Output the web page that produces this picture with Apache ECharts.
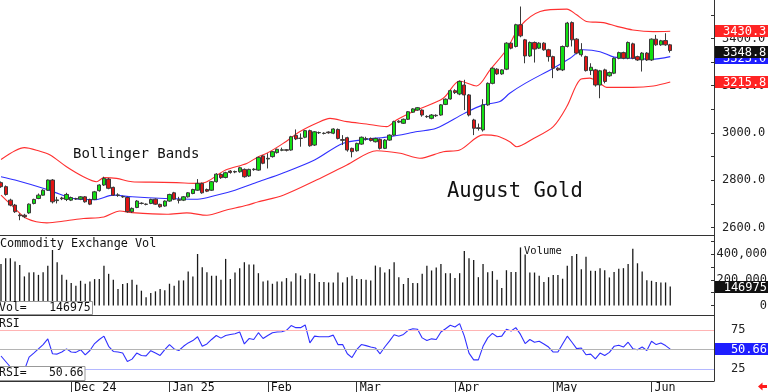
<!DOCTYPE html>
<html><head><meta charset="utf-8">
<script src="https://cdn.jsdelivr.net/npm/echarts@6/dist/echarts.min.js"></script>
<style>html,body{margin:0;padding:0;background:#fff;overflow:hidden}#c{width:768px;height:392px}</style>
</head><body><div id="c"></div>
<script>
// ---- data (bar index 0 = 2024-11-08, last = 2025-06-06) ----
const opens = [2790,2773,2716,2695,2653,2652,2662,2702,2723,2737,2758,2801,2714,2725,2719,2716,2722,2720,2730,2719,
2719,2756,2780,2805,2770,2736,2731,2727,2667,2685,2703,2699,2702,2720,2698,2691,2712,2747,2718,2716,
2730,2744,2758,2787,2761,2758,2794,2825,2812,2839,2835,2836,2846,2818,2845,2843,2903,2890,2900,2917,
2927,2929,2928,2990,2978,2982,3010,2949,3001,2998,3004,2999,3015,2972,2980,2935,2925,2953,2974,2977,
2963,2973,2935,2970,2991,3050,3041,3058,3088,3097,3097,3070,3062,3075,3076,3121,3144,3179,3165,3203,
3161,3055,3022,3013,3119,3210,3270,3250,3270,3380,3366,3458,3394,3326,3383,3359,3380,3352,3323,3274,
3267,3366,3467,3397,3331,3323,3264,3267,3203,3267,3242,3253,3316,3340,3316,3377,3323,3309,3338,3309,
3397,3373,3391,3373];
const closes = [2773,2740,2695,2667,2650,2646,2699,2719,2737,2758,2801,2709,2717,2722,2740,2727,2721,2730,2709,2699,
2751,2780,2808,2766,2737,2738,2730,2667,2681,2712,2702,2698,2719,2699,2688,2712,2740,2720,2715,2730,
2747,2761,2787,2747,2754,2794,2826,2811,2832,2833,2837,2853,2815,2846,2847,2897,2872,2893,2921,2931,
2929,2927,2984,2975,2977,3010,2946,3005,3002,2999,3001,3017,2977,2969,2928,2921,2956,2982,2976,2968,
2977,2935,2970,2991,3048,3046,3058,3090,3102,3107,3076,3069,3076,3073,3119,3143,3179,3171,3218,3161,
3076,3020,3019,3119,3210,3274,3250,3267,3380,3359,3458,3411,3326,3383,3355,3380,3352,3323,3274,3267,
3366,3465,3394,3338,3352,3264,3278,3203,3263,3218,3256,3316,3340,3316,3383,3316,3309,3338,3309,3397,
3373,3390,3373,3348.8];
const lows = [2768,2735,2690,2662,2631,2640,2658,2698,2720,2735,2755,2702,2702,2716,2712,2712,2717,2716,2705,2695,
2716,2752,2776,2762,2734,2730,2726,2663,2662,2682,2698,2694,2699,2696,2684,2688,2709,2716,2702,2712,
2727,2741,2755,2743,2750,2755,2790,2806,2808,2828,2830,2832,2811,2814,2840,2840,2868,2850,2896,2913,
2923,2922,2925,2970,2942,2978,2942,2945,2996,2994,2997,2995,2973,2949,2921,2897,2921,2950,2968,2964,
2960,2930,2932,2967,2988,3042,3038,3055,3085,3094,3069,3064,3058,3068,3073,3118,3141,3165,3160,3097,
3070,2991,3010,3006,3115,3206,3246,3246,3266,3354,3362,3405,3295,3322,3298,3355,3348,3302,3232,3262,
3262,3362,3366,3333,3323,3260,3245,3196,3147,3210,3238,3249,3312,3312,3312,3312,3305,3260,3305,3305,
3369,3369,3369,3340];
const highs = [2795,2778,2722,2700,2660,2658,2702,2722,2744,2762,2803,2805,2730,2730,2747,2731,2726,2733,2733,2722,
2755,2783,2815,2810,2773,2745,2735,2731,2685,2716,2707,2702,2722,2723,2701,2715,2743,2751,2730,2733,
2750,2764,2805,2790,2765,2797,2830,2829,2836,2843,2841,2857,2850,2849,2851,2900,2906,2914,2924,2934,
2938,2932,2988,3015,2998,3013,3014,3008,3006,3003,3007,3020,3019,2991,2984,2938,2959,2985,2984,2981,
2980,2977,2974,2994,3052,3054,3061,3093,3105,3110,3100,3075,3080,3079,3122,3146,3183,3185,3222,3225,
3165,3060,3040,3143,3214,3278,3274,3270,3384,3384,3462,3535,3398,3387,3387,3384,3384,3356,3327,3278,
3370,3470,3472,3401,3380,3327,3295,3271,3267,3272,3260,3320,3344,3344,3387,3382,3327,3342,3342,3400,
3415,3394,3422,3377];
const volumes = [323000,367000,367000,341000,315000,226000,256000,259000,238000,259000,
308000,431000,336000,238000,200000,174000,154000,192000,169000,187000,
205000,205000,308000,246000,200000,128000,167000,174000,200000,162000,
115000,64000,97000,110000,128000,118000,169000,154000,195000,195000,
264000,226000,400000,297000,259000,231000,231000,200000,362000,205000,
256000,290000,336000,318000,318000,251000,187000,195000,169000,187000,
187000,213000,187000,251000,233000,205000,251000,246000,182000,182000,
179000,179000,256000,179000,220000,231000,205000,205000,200000,195000,
310000,297000,256000,282000,336000,220000,167000,213000,174000,174000,
246000,308000,272000,295000,323000,251000,251000,213000,251000,423000,
367000,354000,220000,323000,259000,267000,200000,136000,274000,261000,
261000,451000,397000,256000,256000,231000,182000,220000,236000,236000,
208000,308000,385000,400000,282000,379000,269000,269000,290000,274000,
218000,261000,285000,290000,323000,441000,328000,264000,197000,192000,
182000,179000,179000,146975];
const rsiValues = [42,35,28,22,20,24,40.5,45.7,51,56.5,
63.8,44.8,44.4,47,51,47,46.6,50,43.5,49,
57.8,63,67.2,54.3,47.8,47,45.7,35,38,45.7,
42.7,42.2,48.7,45.7,42.7,50,56.5,51,49,54.3,
58.6,61.6,66.4,54.3,57.3,63,68,64.7,68,69.4,
70.3,72.4,57.3,64.2,63,71.6,64.2,68,71.6,72.4,
72.8,74.6,80.6,78,78,81.5,58.6,67.2,66.4,66.4,
66.4,68.5,56.5,56.5,44.8,40,50,56.5,55.2,53.4,
52.2,44.8,53.4,60.8,69,67.2,69.4,74.6,76.7,75.9,
65,61.6,63.8,63,72.4,76.7,81,78.9,83.2,67.2,
45.7,37,37,54.3,65,70.7,66.4,67.2,75.9,73.7,
78,69.4,57.8,63,59.5,60.8,57.3,53.4,47,47,
57.3,67.2,59.5,51.3,52.2,43.5,44.4,38.4,45.7,42.7,
46.6,54.3,55.6,53.4,59.5,51.3,50,53.4,49,60.8,
56.5,58.6,55.2,50.66];
// Bollinger bands as [bar index, price]
const upperBand = [[0,2888],[3,2925],[5,2938],[8,2925],[10.5,2907],[14,2857],[17.6,2815],[20.4,2794],[22,2811],[24.7,2808],[28,2794],[32,2792],[37.5,2790],[41.8,2787],[44,2794],[48,2843],[52.5,2871],[55,2900],[56.8,2914],[60.3,2956],[63.9,3006],[67.4,3041],[70.3,3062],[73.9,3048],[78.1,3038],[82.4,3027],[84.5,3055],[88.8,3097],[94.5,3147],[98,3220],[101.6,3199],[104.5,3267],[108,3352],[110.9,3451],[115.2,3514],[120.9,3524],[123,3500],[125.1,3472],[128.7,3467],[131.6,3451],[135,3436],[139.4,3429],[143,3430.3]];
const middleBand = [[0,2815],[3,2801],[9,2766],[12.6,2741],[15.5,2723],[20,2718],[24,2737],[28,2730],[35,2723],[42,2720],[46,2737],[50,2758],[55,2794],[60,2829],[67,2886],[73,2956],[78,2973],[83,2984],[89,3006],[93,3020],[99,3083],[103,3119],[106.6,3133],[108.7,3168],[112,3210],[118,3274],[121.6,3316],[124.4,3352],[128,3344],[131,3321],[135,3316],[139,3312],[143,3323.0]];
const lowerBand = [[0,2737],[2.6,2688],[5.5,2638],[9.8,2620],[14,2629],[17.6,2638],[22,2645],[25.4,2670],[28,2663],[35.4,2656],[39.7,2662],[44,2652],[48,2673],[52.5,2694],[55,2709],[60.3,2737],[67.4,2801],[73.9,2865],[80.3,2925],[85.3,2914],[89.5,2893],[94.5,2921],[98,2928],[103,2992],[106,2987],[108.7,2963],[110.2,2942],[113.8,2977],[118,3027],[120.9,3112],[123.7,3225],[125.8,3232],[128,3210],[129.4,3193],[135,3193],[139.4,3199],[143,3215.8]];
const monthIdx = [15,36,57,76,97,118,139];
const monthLabels = ['Dec 24','Jan 25','Feb','Mar','Apr','May','Jun'];
const priceLabels = [2600,2800,3000,3200,3400];
const priceTicks = [2600,2700,2800,2900,3000,3100,3200,3300,3400,3500];
const volLabels = [0,200000,400000];
const volTicks = [0,100000,200000,300000,400000,500000];
const rsiLabels = [25,50,75];

// ---- chart ----
const MONO = '"DejaVu Sans Mono", monospace';
const candleData = opens.map((o,i)=>[i,o,closes[i],lows[i],highs[i]]);
const volData = volumes.map((v,i)=>[i,v]);
const rsiData = rsiValues.map((v,i)=>[i,v]);
const xMin = -0.2137, xMax = 152.35;
function xAx(g, extra){
  return Object.assign({gridIndex:g,type:'value',min:xMin,max:xMax,position:'bottom',
    splitLine:{show:false},axisTick:{show:false},axisLabel:{show:false},
    axisLine:{show:true,onZero:false,lineStyle:{color:'#333',width:1}}}, extra||{});
}
function yAx(g, min, max, extra){
  return Object.assign({gridIndex:g,type:'value',position:'right',min:min,max:max,
    splitLine:{show:false},
    axisLine:{show:true,onZero:false,lineStyle:{color:'#333',width:1}}}, extra);
}
const gridBase = {left:0,width:714,containLabel:false,outerBoundsMode:'none'};
const option = {
  animation:false,
  backgroundColor:'#fff',
  grid:[
    Object.assign({top:0,height:235},gridBase),
    Object.assign({top:235,height:80},gridBase),
    Object.assign({top:315,height:66},gridBase)
  ],
  xAxis:[
    xAx(0), xAx(1),
    xAx(2,{axisTick:{show:true,customValues:monthIdx,length:11,inside:false,lineStyle:{color:'#333'}},
      axisLabel:{show:true,customValues:monthIdx,margin:1,align:'left',padding:[0,0,0,3],
        color:'#111',fontFamily:MONO,fontSize:11.7,
        formatter:v=>monthLabels[monthIdx.indexOf(Math.round(v))]||''}})
  ],
  yAxis:[
    yAx(0,2568.5,3562.6,{axisTick:{show:true,inside:true,length:3,customValues:priceTicks,lineStyle:{color:'#333'}},
      axisLabel:{customValues:priceLabels,formatter:v=>Number(v).toFixed(1),margin:8,align:'left',color:'#222',fontFamily:MONO,fontSize:12}}),
    yAx(1,-73800,547600,{axisTick:{show:true,inside:true,length:3,customValues:volTicks,lineStyle:{color:'#333'}},
      axisLabel:{customValues:volLabels,margin:53,align:'right',color:'#222',fontFamily:MONO,fontSize:12}}),
    yAx(2,10.2,94.1,{axisTick:{show:true,inside:true,length:3,customValues:rsiLabels,lineStyle:{color:'#333'}},
      axisLabel:{customValues:rsiLabels,margin:17,align:'left',color:'#222',fontFamily:MONO,fontSize:12}})
  ],
  series:[
    {type:'line',xAxisIndex:0,yAxisIndex:0,data:upperBand,symbol:'none',smooth:0.3,silent:true,z:2,
      lineStyle:{color:'#ff3030',width:1.1}},
    {type:'line',xAxisIndex:0,yAxisIndex:0,data:lowerBand,symbol:'none',smooth:0.3,silent:true,z:2,
      lineStyle:{color:'#ff3030',width:1.1}},
    {type:'line',xAxisIndex:0,yAxisIndex:0,data:middleBand,symbol:'none',smooth:0.3,silent:true,z:2,
      lineStyle:{color:'#3030ff',width:1.1}},
    {type:'candlestick',xAxisIndex:0,yAxisIndex:0,data:candleData,barWidth:3.8,z:3,
      itemStyle:{color:'#12e012',color0:'#e01414',borderColor:'#3a3a3a',borderColor0:'#3a3a3a',borderWidth:1}},
    {type:'bar',xAxisIndex:1,yAxisIndex:1,data:volData,barWidth:1.3,itemStyle:{color:'#1a1a1a'},silent:true},
    {type:'line',xAxisIndex:2,yAxisIndex:2,data:rsiData,symbol:'none',silent:true,z:3,
      lineStyle:{color:'#3030ff',width:1.1},
      markLine:{silent:true,symbol:'none',label:{show:false},animation:false,
        data:[{yAxis:75,lineStyle:{color:'#ffb4b4',width:1,type:'solid'}},
              {yAxis:50,lineStyle:{color:'#b4b4b4',width:1,type:'solid'}},
              {yAxis:25,lineStyle:{color:'#b4b8ff',width:1,type:'solid'}}]}}
  ]
};
const chart = echarts.init(document.getElementById('c'));
chart.setOption(option);

const py = v => chart.convertToPixel({yAxisIndex:0}, v);
const vy = v => chart.convertToPixel({yAxisIndex:1}, v);
const ry = v => chart.convertToPixel({yAxisIndex:2}, v);
let zc = 100;
function box(y, text, fill, tx, align){
  return [
    {type:'rect',z:zc++,shape:{x:715,y:Math.round(y)-6,width:53,height:12},style:{fill:fill}},
    {type:'text',z:zc++,x:tx,y:Math.round(y)+0.5,style:{text:text,fill:'#fff',font:'12px '+MONO,align:align,verticalAlign:'middle'}}
  ];
}
function txt(x,y,text,size,align){
  return {type:'text',z:zc++,x:x,y:y,style:{text:text,fill:'#111',font:size+'px '+MONO,align:align||'left',verticalAlign:'middle'}};
}
const lastClose = closes[closes.length-1];
const lastVol = volumes[volumes.length-1];
const lastRsi = rsiValues[rsiValues.length-1];
const lastUp = upperBand[upperBand.length-1][1];
const lastMid = middleBand[middleBand.length-1][1];
const lastLow = lowerBand[lowerBand.length-1][1];
const g = [];
g.push(...box(py(lastUp), lastUp.toFixed(1), '#ff2424', 723, 'left'));
g.push(...box(py(lastLow), lastLow.toFixed(1), '#ff2424', 723, 'left'));
g.push(...box(py(lastMid)+1, lastMid.toFixed(1), '#1e1eff', 723, 'left'));
g.push(...box(py(lastClose)+1, lastClose.toFixed(1), '#111', 723, 'left'));
g.push(...box(vy(lastVol), String(lastVol), '#111', 767, 'right'));
g.push(...box(ry(lastRsi), lastRsi.toFixed(2), '#1e1eff', 767, 'right'));
g.push(txt(73,154.7,'Bollinger Bands',14));
g.push(txt(447,192,'August Gold',20.5));
g.push(txt(0,244,'Commodity Exchange Vol',11.8));
g.push(txt(524,251,'Volume',10.5));
g.push(txt(-1,323.8,'RSI',11.5));
g.push({type:'rect',z:zc++,shape:{x:-1,y:301.5,width:93.5,height:13},style:{fill:'#fff',stroke:'#999',lineWidth:1}});
g.push(txt(-1,308,'Vol=',11.5));
g.push(txt(90.7,308,String(lastVol),11.5,'right'));
g.push({type:'rect',z:zc++,shape:{x:-1,y:366.5,width:86,height:14},style:{fill:'#fff',stroke:'#999',lineWidth:1}});
g.push(txt(-1,373.5,'RSI=',11.5));
g.push(txt(83.5,373.5,lastRsi.toFixed(2),11.5,'right'));
g.push({type:'polygon',z:zc++,shape:{points:[[758,386.5],[762.5,382.5],[762.5,385],[767,385],[767,388],[762.5,388],[762.5,390.5]]},style:{fill:'#ff1a1a'}});
chart.setOption({graphic:g});
</script>
</body></html>
